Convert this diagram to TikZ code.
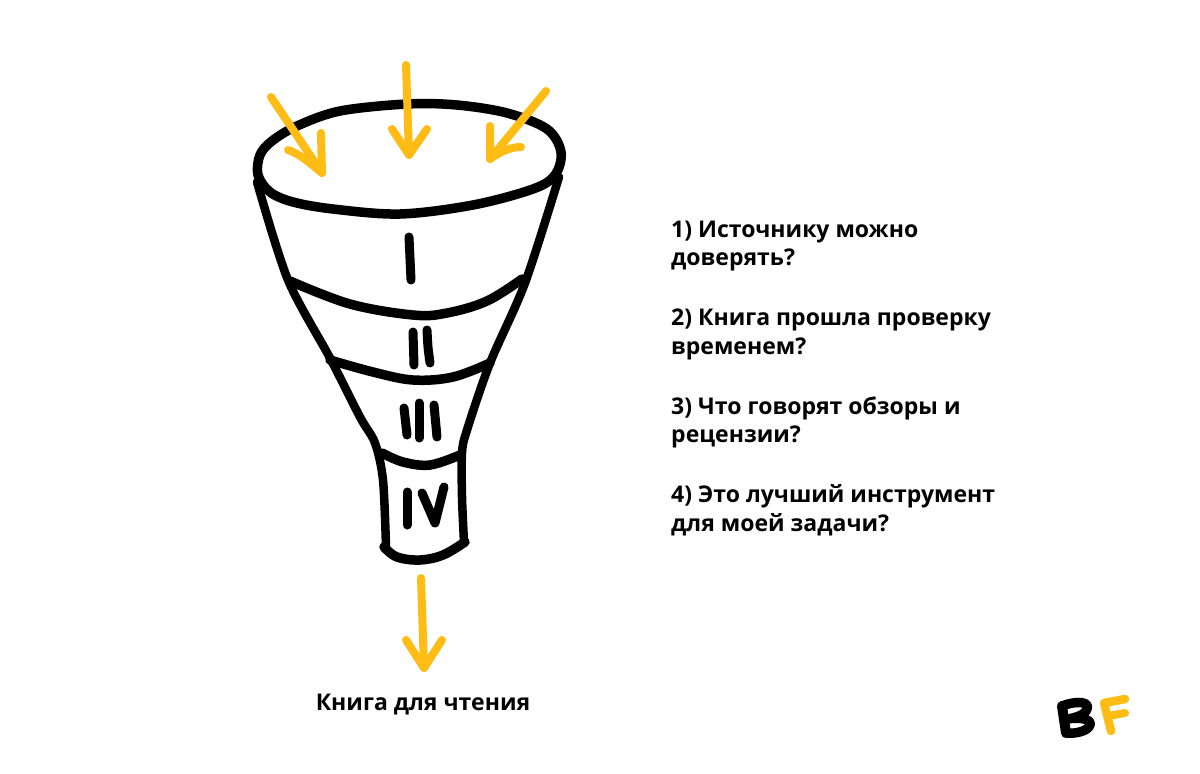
\documentclass[tikz,border=0pt]{standalone}
\usepackage{fontspec}
\setmainfont{Open Sans}
\begin{document}
\begin{tikzpicture}[x=1pt,y=-1pt,
  ink/.style={draw=black,line width=9.5pt,line cap=round,line join=round},
  thin ink/.style={draw=black,line width=8.5pt,line cap=round,line join=round},
  num/.style={draw=black,line width=9pt,line cap=round,line join=round},
  yel/.style={draw=bfyellow,line width=8pt,line cap=round,line join=round},
  label/.style={font=\bfseries\fontsize{23}{28.8}\selectfont,inner sep=0pt,align=left,text=black}]
\definecolor{bfyellow}{HTML}{FFBC15}
\useasboundingbox (0,0) rectangle (1200,774);
\fill[white] (0,0) rectangle (1200,774);
% sides
\draw[thin ink] plot[smooth,tension=.5] coordinates {(257,182) (288,280) (330,358) (360,417) (375,443) (383,480) (386,547)};
\draw[thin ink] plot[smooth,tension=.5] coordinates {(559,177) (525,283) (490,363) (467,430) (462,453) (462,497) (464,542)};
% bands
\draw[ink] plot[smooth,tension=.6] coordinates {(290,281) (350,304) (413,315) (447,313) (487,301) (522,279)};
\draw[ink] plot[smooth,tension=.6] coordinates {(330,360) (373,372) (413,380) (453,377) (490,363)};
\draw[ink] plot[smooth,tension=.6] coordinates {(382,453) (403,462) (430,465) (460,455)};
\draw[ink] plot[smooth,tension=.6] coordinates {(384,547) (397,557) (420,560) (443,555) (465,542)};
% rim
\draw[ink] plot[smooth cycle,tension=.55] coordinates {(260,155) (272,141) (297,126) (340,111) (407,104) (457,105) (507,113) (547,129) (561,152) (555,175) (533,189) (473,205) (400,214) (333,209) (293,202) (270,192) (258,175)};
% numerals
\draw[num] (409,237) -- (411,280);
\draw[num] (413,332) -- (414,365);
\draw[num] plot[smooth] coordinates {(427,330) (428,347) (430,363)};
\draw[num] (404,408) -- (407,435);
\draw[num] (419,403) -- (419,438);
\draw[num] (434,405) -- (437,437);
\draw[num] (407,492) -- (407,525);
\draw[num] (422,493) -- (435,523) -- (444,487);
% arrows
\draw[yel] (271,97) -- (322,173);
\draw[yel] (288,150) .. controls (300,154) and (310,163) .. (322,173) -- (321,133);
\draw[yel] (406,65) -- (409,155);
\draw[yel] (392,129) -- (409,155) -- (427,129);
\draw[yel] (546,91) -- (490,159);
\draw[yel] (490,126) -- (490,159) .. controls (500,152) and (510,147) .. (521,147);
\draw[yel] (421,578) -- (424,668);
\draw[yel] (406,640) -- (424,668) -- (442,640);
% text
\node[label,anchor=west] (q1) at (671,246) {1) Источнику можно\\доверять?};
\node[label,anchor=west] (q2) at (671,334.5) {2) Книга прошла проверку\\временем?};
\node[label,anchor=west] (q3) at (671,422.5) {3) Что говорят обзоры и\\рецензии?};
\node[label,anchor=west] (q4) at (671,510.5) {4) Это лучший инструмент\\для моей задачи?};
\node[label] (out) at (423,705) {Книга для чтения};
% logo
\draw[draw=black,line width=10pt,line join=round,line cap=round] (1062,706) -- (1066,733);
\draw[draw=black,line width=9.5pt,line join=round,line cap=round] (1062,706) .. controls (1078,700) and (1090,702) .. (1087,709) .. controls (1085,715) and (1075,718) .. (1067,719) .. controls (1080,717) and (1092,719) .. (1090,725) .. controls (1088,731) and (1076,734) .. (1066,733);
\draw[draw=bfyellow,line width=8.5pt,line cap=round,line join=round] (1125,699) -- (1104,703) -- (1111,731);
\draw[draw=bfyellow,line width=8pt,line cap=round] (1108,716) -- (1125,713);
\end{tikzpicture}
\end{document}
